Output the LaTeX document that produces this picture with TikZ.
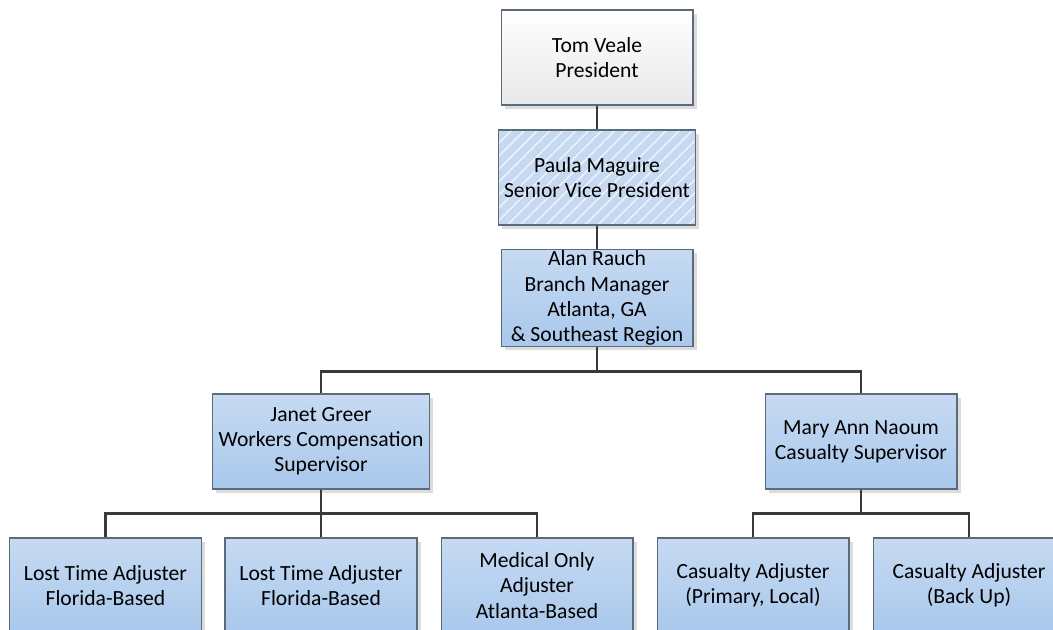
\documentclass[tikz,border=0pt]{standalone}
\usepackage{fontspec}
\setmainfont{Carlito}
\usetikzlibrary{positioning,shadows,patterns.meta}

\definecolor{boxtop}{HTML}{C6DAF2}
\definecolor{boxbot}{HTML}{A9C8EC}
\definecolor{boxflat}{HTML}{C6D9F1}
\definecolor{boxline}{HTML}{5B6B7B}
\definecolor{linkcol}{HTML}{3A3A3A}

\begin{document}
\begin{tikzpicture}[x=0.02cm, y=0.02cm,
    every node/.style={font=\fontsize{12.3pt}{14.3pt}\selectfont, align=center},
    card/.style={draw=boxline, line width=0.6pt, minimum width=3.84cm, minimum height=1.9cm,
        inner ysep=1pt,
        drop shadow={shadow xshift=2pt, shadow yshift=-2pt, fill=black!30, opacity=.45}},
    staff/.style={card, top color=boxtop, bottom color=boxbot},
    wide/.style={staff, minimum width=4.32cm},
    boss/.style={card, top color=white, bottom color=black!9},
    hatched/.style={card, fill=boxflat,
        postaction={draw=none, pattern={Lines[angle=45, distance=5.2pt, line width=0.8pt]}, pattern color=white!70!boxflat},
        postaction={draw=boxline, line width=0.6pt}},
    link/.style={draw=linkcol, line width=1.5pt}]
    \useasboundingbox (0,0) rectangle (1053,-629);
    \clip (0,0) rectangle (1053,-629);
        \node[boss] (tom) at (597,-57.5) {Tom Veale\\President};
        \node[hatched] (paula) at (597,-177.5) {Paula Maguire\\Senior Vice President};
        \node[staff] (alan) at (597,-298) {Alan Rauch\\Branch Manager\\Atlanta, GA\\\& Southeast Region};
        \node[wide] (janet) at (321,-441.5) {Janet Greer\\Workers Compensation\\Supervisor};
        \node[staff] (mary) at (861,-441.5) {Mary Ann Naoum\\Casualty Supervisor};
        \node[staff] (lost1) at (105.5,-585.5) {Lost Time Adjuster\\Florida-Based};
        \node[staff] (lost2) at (321,-585.5) {Lost Time Adjuster\\Florida-Based};
        \node[staff] (medical) at (537,-585.5) {Medical Only\\Adjuster\\Atlanta-Based};
        \node[staff] (casual1) at (753,-585.5) {Casualty Adjuster\\(Primary, Local)};
        \node[staff] (casual2) at (969,-585.5) {Casualty Adjuster\\(Back Up)};
        \draw[link] (tom) -- (paula);
        \draw[link] (paula) -- (alan);
        \draw[link] (alan.south) -- ++(0,-24) -| (janet.north);
        \draw[link] (alan.south) -- ++(0,-24) -| (mary.north);
        \draw[link] (janet.south) -- ++(0,-24) -| (lost1.north);
        \draw[link] (janet) -- (lost2);
        \draw[link] (janet.south) -- ++(0,-24) -| (medical.north);
        \draw[link] (mary.south) -- ++(0,-24) -| (casual1.north);
        \draw[link] (mary.south) -- ++(0,-24) -| (casual2.north);
    \end{tikzpicture}
\end{document}
